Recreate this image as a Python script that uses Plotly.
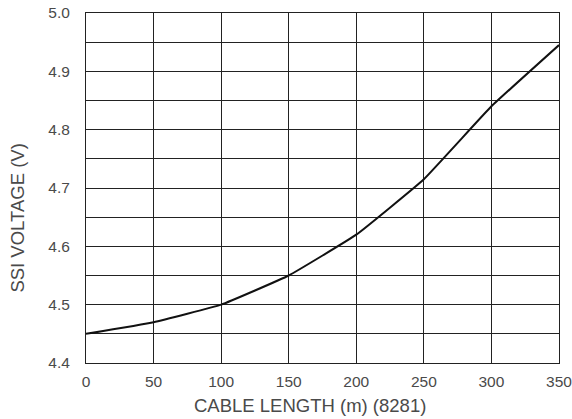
import plotly.graph_objects as go

cable_length = [0, 50, 100, 150, 200, 250, 300, 350]
ssi_voltage = [4.45, 4.47, 4.50, 4.55, 4.62, 4.715, 4.84, 4.945]
x_title = "CABLE LENGTH (m) (8281)"
y_title = "SSI VOLTAGE (V)"

fig = go.Figure()
fig.add_trace(go.Scatter(
    x=cable_length, y=ssi_voltage, mode="lines",
    line=dict(color="#111111", width=2, shape="spline", smoothing=0.3),
    showlegend=False,
))

font = dict(family="Liberation Sans, Arial, sans-serif", size=15.5, color="#4a4a4a")
fig.update_layout(
    width=572, height=419,
    margin=dict(l=86, r=13, t=13, b=56, autoexpand=False),
    paper_bgcolor="white", plot_bgcolor="white",
    font=font,
)
fig.update_xaxes(
    range=[0, 350], tick0=0, dtick=50, showgrid=True, gridcolor="#222222", gridwidth=1,
    showline=True, linecolor="#222222", linewidth=1, mirror=True, zeroline=False,
    ticks="", automargin=False, ticklabelstandoff=4, ticklabeloverflow="allow",
)
fig.update_yaxes(
    range=[4.4, 5.0], tick0=4.4, dtick=0.1, tickformat=".1f",
    showgrid=True, gridcolor="#222222", gridwidth=1,
    minor=dict(dtick=0.05, showgrid=True, gridcolor="#222222", gridwidth=1),
    showline=True, linecolor="#222222", linewidth=1, mirror=True, zeroline=False,
    ticks="", automargin=False, ticklabelstandoff=12, ticklabeloverflow="allow",
)
title_font = dict(family="Liberation Sans, Arial, sans-serif", size=18.5, color="#4a4a4a")
fig.add_annotation(text=x_title, xref="paper", yref="paper", x=0.4736, y=-0.12,
                   xanchor="center", yanchor="middle", showarrow=False, font=title_font)
fig.add_annotation(text=y_title, xref="paper", yref="paper", x=-0.1448, y=0.414,
                   xanchor="center", yanchor="middle", textangle=-90, showarrow=False,
                   font=title_font)

fig.write_html("out.html", config={"displayModeBar": False},
               post_script="document.body.style.margin='0';")
